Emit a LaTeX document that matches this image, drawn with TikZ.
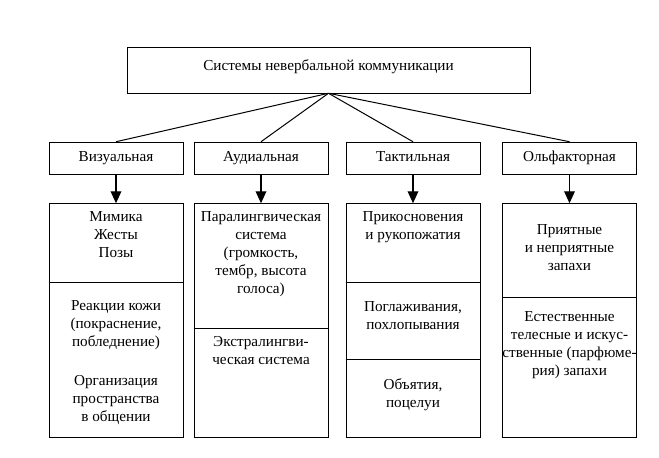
\documentclass[tikz,border=0pt]{standalone}
\usepackage{fontspec}
\setmainfont{Liberation Serif}
\usetikzlibrary{arrows.meta,positioning}

\begin{document}
\begin{tikzpicture}[
	x=0.75pt, y=-0.75pt,
	box/.style={draw, minimum width=100.5pt, minimum height=24pt, align=center,
		text height=8pt, text depth=2.6pt, font=\fontsize{11.4}{13.5}\selectfont},
	col/.style={draw, minimum width=100.5pt, minimum height=175.5pt},
	txt/.style={anchor=north, align=center, inner sep=0pt,
		font=\fontsize{11.4}{13.5}\selectfont},
	arr/.style={-{Triangle[length=9pt, width=8pt]}, line width=1pt},
	link/.style={line width=0.75pt}
]
	\useasboundingbox[fill=white] (0,0) rectangle (659,457);

	% Root
	\node[box, minimum width=302.25pt, minimum height=34.5pt, text depth=8pt]
		(root) at (328.5,70) {Системы невербальной коммуникации};

	% Four channels
	\node[box] (visual)  at (116,158)   {Визуальная};
	\node[box] (audial)  at (261,158)   {Аудиальная};
	\node[box] (tactile) at (413,158)   {Тактильная};
	\node[box] (olfact)  at (569.5,158) {Ольфакторная};

	\foreach \n in {visual, audial, tactile, olfact}
		\draw[link] (root.south) -- (\n.north);

	% Columns under the channels
	\node[col, below=21.75pt of visual]  (colV) {};
	\node[col, below=21.75pt of audial]  (colA) {};
	\node[col, below=21.75pt of tactile] (colT) {};
	\node[col, below=21.75pt of olfact]  (colO) {};

	\draw[arr] (visual)  -- (colV);
	\draw[arr] (audial)  -- (colA);
	\draw[arr] (tactile) -- (colT);
	\draw[arr] (olfact)  -- (colO);

	% Dividers
	\draw (colV.west |- 0,282) -- (colV.east |- 0,282);
	\draw (colA.west |- 0,328) -- (colA.east |- 0,328);
	\draw (colT.west |- 0,282) -- (colT.east |- 0,282);
	\draw (colT.west |- 0,359) -- (colT.east |- 0,359);
	\draw (colO.west |- 0,297) -- (colO.east |- 0,297);

	% Texts
	\node[txt] (vis1) at (116,211) {Мимика\\Жесты\\Позы};
	\node[txt] (vis2) at (116,300)
		{Реакции кожи\\(покраснение,\\побледнение)\\[16pt]Организация\\пространства\\в общении};
	\node[txt] (aud1) at (261,211)
		{Паралингвическая\\система\\(громкость,\\тембр, высота\\голоса)};
	\node[txt] (aud2) at (261,336) {Экстралингви-\\ческая система};
	\node[txt] (tac1) at (413,211) {Прикосновения\\и рукопожатия};
	\node[txt] (tac2) at (413,301) {Поглаживания,\\похлопывания};
	\node[txt] (tac3) at (413,378) {Объятия,\\поцелуи};
	\node[txt] (olf1) at (569.5,224) {Приятные\\и неприятные\\запахи};
	\node[txt] (olf2) at (569.5,311)
		{Естественные\\телесные и искус-\\ственные (парфюме-\\рия) запахи};
\end{tikzpicture}
\end{document}
